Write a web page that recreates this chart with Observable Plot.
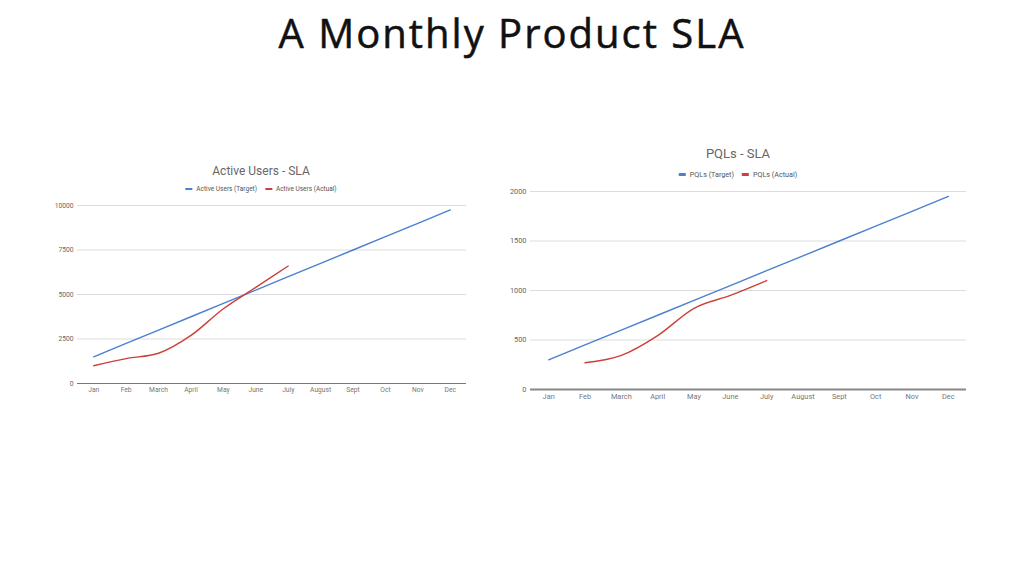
<!DOCTYPE html>
<html>
<head>
<meta charset="utf-8">
<script src="https://cdn.jsdelivr.net/npm/d3@7"></script>
<script src="https://cdn.jsdelivr.net/npm/@observablehq/plot@0.6"></script>
<style>
  html, body { margin: 0; padding: 0; background: #fff; }
  body { width: 1024px; height: 576px; position: relative; overflow: hidden; font-family: Roboto, "Noto Sans", sans-serif; }
  .page-title { position: absolute; left: 0; width: 1024px; top: 5px; text-align: center; font-family: "Open Sans", Lato, sans-serif; font-weight: 400; font-size: 40px; color: #111; letter-spacing: 2px; -webkit-text-stroke: 0.5px #111; }
  .chart-title { position: absolute; text-align: center; color: #666; transform: translateX(-50%); white-space: nowrap; }
  .legend { position: absolute; transform: translateX(-50%); color: #555; white-space: nowrap; display: flex; align-items: center; }
  .legend span.sw { display: inline-block; width: 7px; height: 2.5px; margin-right: 4px; }
  .legend span.item { display: inline-flex; align-items: center; margin-right: 8px; }
  .axis-title { position: absolute; transform: translateX(-50%); font-size: 7.5px; color: #333; }
  .plot { position: absolute; }
</style>
</head>
<body>
<div class="page-title">A Monthly Product SLA</div>

<div class="chart-title" style="left:261px; top:164px; font-size:12px;">Active Users - SLA</div>
<div class="legend" style="left:261px; top:185px; font-size:6.5px;">
  <span class="item"><span class="sw" style="background:#4a80d0"></span>Active Users (Target)</span>
  <span class="item" style="margin-right:0"><span class="sw" style="background:#cc4139"></span>Active Users (Actual)</span>
</div>
<div class="axis-title" style="left:272px; top:400px; font-size:7px;">Users</div>

<div class="chart-title" style="left:738px; top:146px; font-size:13px;">PQLs - SLA</div>
<div class="legend" style="left:738px; top:170px; font-size:7.2px;">
  <span class="item"><span class="sw" style="background:#4a80d0"></span>PQLs (Target)</span>
  <span class="item" style="margin-right:0"><span class="sw" style="background:#cc4139"></span>PQLs (Actual)</span>
</div>
<div class="axis-title" style="left:748px; top:409px;">PQLs</div>

<div id="left" class="plot" style="left:20px; top:195px;"></div>
<div id="right" class="plot" style="left:480px; top:180px;"></div>

<script>
// Month categories shared by both charts
const months = ["Jan", "Feb", "March", "April", "May", "June", "July", "August", "Sept", "Oct", "Nov", "Dec"];

// Active users: monthly target and actuals so far
const usersTarget = [1500, 2250, 3000, 3750, 4500, 5250, 6000, 6750, 7500, 8250, 9000, 9750];
const usersActual = [1000, 1400, 1700, 2700, 4200, 5400, 6600, null, null, null, null, null];
const usersTicks = [0, 2500, 5000, 7500, 10000];

// PQLs: monthly target and actuals so far
const pqlTarget = [300, 450, 600, 750, 900, 1050, 1200, 1350, 1500, 1650, 1800, 1950];
const pqlActual = [null, 270, 345, 545, 820, 950, 1100, null, null, null, null, null];
const pqlTicks = [0, 500, 1000, 1500, 2000];

const BLUE = "#4a80d0";
const RED = "#cc4139";

function series(values) {
  return months.map((m, i) => ({month: m, value: values[i]})).filter(d => d.value != null);
}

function slaChart({target, actual, ticks, yMax, width, height, marginLeft, marginRight, marginTop, marginBottom, baseline, baseColor, fontSize}) {
  return Plot.plot({
    width, height, marginLeft, marginRight, marginTop, marginBottom,
    style: {fontFamily: "Roboto, 'Noto Sans', sans-serif", fontSize, color: "#666", background: "#fff"},
    x: {type: "point", domain: months, padding: 0.5, round: false, label: null},
    y: {domain: [0, yMax], label: null},
    marks: [
      Plot.gridY(ticks.filter(t => t > 0), {stroke: "#dcdcdc", strokeOpacity: 1, strokeWidth: 1}),
      Plot.axisY(ticks, {tickSize: 0, tickPadding: 4, tickFormat: d => String(d), label: null, fill: "#666"}),
      Plot.axisX({tickSize: 0, tickPadding: 4, label: null, fill: "#777"}),
      Plot.ruleY([0], {stroke: baseColor, strokeWidth: baseline}),
      Plot.line(series(target), {x: "month", y: "value", stroke: BLUE, strokeWidth: 1.4}),
      Plot.line(series(actual), {x: "month", y: "value", stroke: RED, strokeWidth: 1.4, curve: "monotone-x"})
    ]
  });
}

document.getElementById("left").append(slaChart({
  target: usersTarget, actual: usersActual, ticks: usersTicks, yMax: 10000,
  width: 460, height: 230, marginLeft: 57, marginRight: 14, marginTop: 10, marginBottom: 42,
  baseline: 1.2, baseColor: "#777", fontSize: "6.7px"
}));

document.getElementById("right").append(slaChart({
  target: pqlTarget, actual: pqlActual, ticks: pqlTicks, yMax: 2000,
  width: 500, height: 250, marginLeft: 50, marginRight: 14, marginTop: 11, marginBottom: 41,
  baseline: 2, baseColor: "#888", fontSize: "7.4px"
}));
</script>
</body>
</html>
